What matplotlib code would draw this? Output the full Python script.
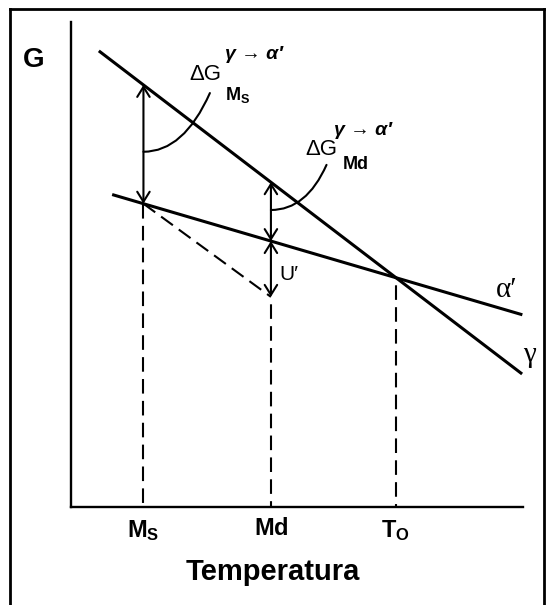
import numpy as np
import matplotlib.pyplot as plt
from matplotlib.lines import Line2D

# temperatures marked on the axis (arbitrary units)
temp_marks = [1.61, 4.43, 7.19]
temp_labels = [r'$\mathbf{M_S}$', r'$\mathbf{Md}$', r'$\mathbf{T_O}$']

# free energy of austenite (gamma) and martensite (alpha')
gamma_T = [0.65, 9.96]
gamma_G = [9.38, 2.76]
alpha_T = [0.95, 9.96]
alpha_G = [6.43, 3.97]

# lower end of the U' arrow under the alpha' line at Md
u_prime_G = 4.33

plt.rcParams['mathtext.fontset'] = 'custom'
plt.rcParams['mathtext.rm'] = 'Liberation Sans'
plt.rcParams['mathtext.bf'] = 'Liberation Sans:bold'
plt.rcParams['mathtext.it'] = 'Liberation Sans:italic'
plt.rcParams['font.family'] = ['Liberation Sans', 'DejaVu Sans']

fig = plt.figure(figsize=(5.53, 6.05), dpi=100)
ax = fig.add_axes([0.1278, 0.162, 0.8174, 0.8021])
ax.set_xlim(0, 10)
ax.set_ylim(0, 10)

ms, md, t0 = temp_marks
g_ms, g_md = np.interp([ms, md], gamma_T, gamma_G)
a_ms, a_md, a_t0 = np.interp(temp_marks, alpha_T, alpha_G)

# the two free energy lines
ax.plot(gamma_T, gamma_G, color='black', lw=2.2)
ax.plot(alpha_T, alpha_G, color='black', lw=2.2)

# dashed construction lines
dash = (0, (7, 3.5))
dash_gap = (7, (7, 3.5))
ax.plot([ms, ms], [a_ms, 0], color='black', lw=1.5, ls=dash)
ax.plot([md, md], [u_prime_G, 0], color='black', lw=1.5, ls=dash_gap)
ax.plot([t0, t0], [a_t0, 0], color='black', lw=1.5, ls=dash_gap)
ax.plot([ms, md], [a_ms, u_prime_G], color='black', lw=1.5, ls=dash)

# double arrows
arrow_kw = dict(arrowstyle='<->,head_length=0.45,head_width=0.28', color='black',
                lw=1.5, shrinkA=0, shrinkB=0, mutation_scale=16)
ax.annotate('', xy=(ms, g_ms), xytext=(ms, a_ms), arrowprops=arrow_kw)
ax.annotate('', xy=(md, g_md), xytext=(md, a_md), arrowprops=arrow_kw)
ax.annotate('', xy=(md, a_md), xytext=(md, u_prime_G), arrowprops=arrow_kw)

# leader arcs from the labels to the arrows
arc_kw = dict(arrowstyle='-', connectionstyle='angle3,angleA=-114,angleB=0',
              color='black', lw=1.5, shrinkA=0, shrinkB=0)
ax.annotate('', xy=(ms, 7.32), xytext=(3.08, 8.53), arrowprops=arc_kw)
ax.annotate('', xy=(md, 6.12), xytext=(5.66, 7.05), arrowprops=arc_kw)

# delta G labels
sup_kw = dict(fontsize=14, fontweight='bold', fontstyle='italic', ha='center', va='center')
ax.text(2.97, 8.91, 'ΔG', fontsize=16, ha='center', va='center')
ax.text(4.05, 9.33, 'γ → α′', **sup_kw)
ax.text(3.70, 8.49, r'$\mathbf{M_S}$', fontsize=13, ha='center', va='center')
ax.text(5.54, 7.36, 'ΔG', fontsize=16, ha='center', va='center')
ax.text(6.47, 7.75, 'γ → α′', **sup_kw)
ax.text(6.29, 7.05, r'$\mathbf{Md}$', fontsize=13, ha='center', va='center')

ax.text(4.83, 4.80, 'U′', fontsize=15, ha='center', va='center')
serif = ['Liberation Serif', 'DejaVu Serif']
ax.text(9.65, 4.47, 'α′', family=serif, fontsize=21, ha='center', va='center')
ax.text(10.16, 3.13, 'γ', family=serif, fontsize=21, ha='center', va='center')

# axes
for side in ['top', 'right']:
    ax.spines[side].set_visible(False)
for side in ['left', 'bottom']:
    ax.spines[side].set_linewidth(1.7)
ax.set_xticks(temp_marks, temp_labels, fontsize=17)
ax.tick_params(axis='x', length=0, pad=8)
ax.set_yticks([])

ax.set_ylabel('G', rotation=0, fontsize=20, fontweight='bold', ha='center', va='center')
ax.yaxis.set_label_coords(-0.081, 0.921)
ax.set_xlabel('Temperatura', fontsize=21, fontweight='bold', va='center')
ax.xaxis.set_label_coords(0.4465, -0.134)

# frame around the figure
fig.add_artist(Line2D([0.0177, 0.0177], [0, 0.9843], color='black', lw=2, transform=fig.transFigure))
fig.add_artist(Line2D([0.0177, 0.9837], [0.9843, 0.9843], color='black', lw=2, transform=fig.transFigure))
fig.add_artist(Line2D([0.9837, 0.9837], [0, 0.9843], color='black', lw=2, transform=fig.transFigure))

fig.savefig('out.png', dpi=100)
